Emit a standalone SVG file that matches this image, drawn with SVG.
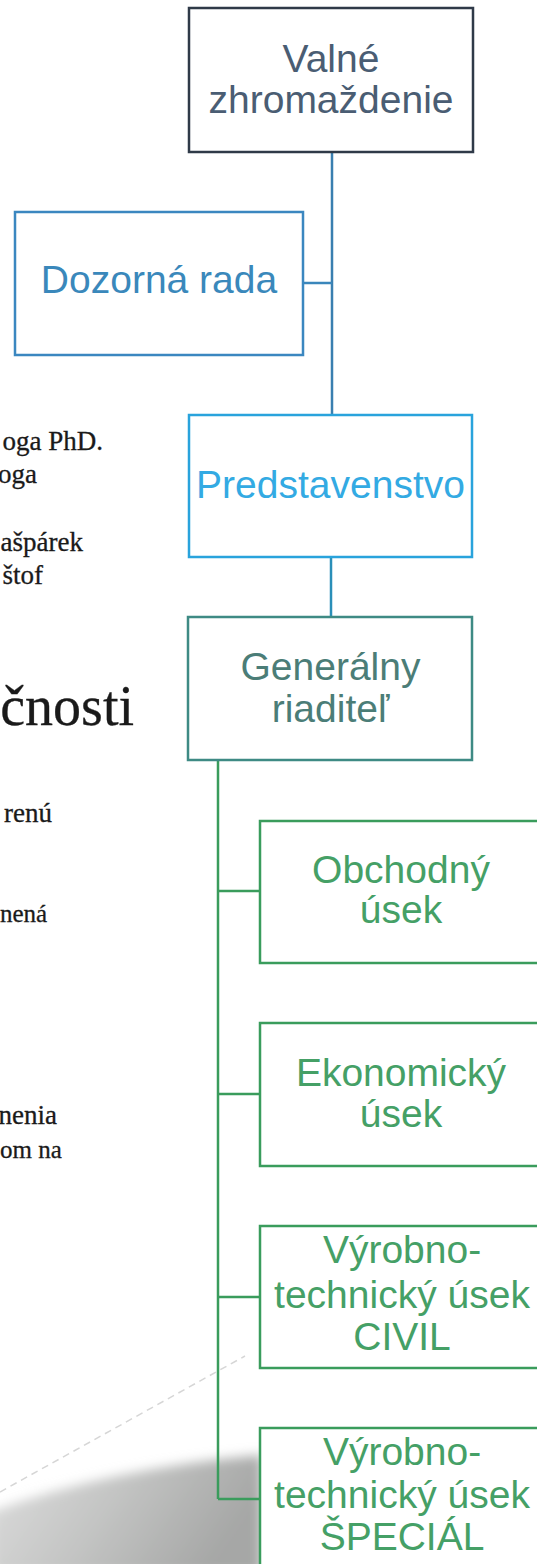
<svg xmlns="http://www.w3.org/2000/svg" width="537" height="1564" viewBox="0 0 537 1564">
  <defs>
    <linearGradient id="swoosh" x1="0" y1="0" x2="1" y2="0.3">
      <stop offset="0" stop-color="#dedede"/>
      <stop offset="0.5" stop-color="#c4c5c4"/>
      <stop offset="1" stop-color="#a6a7a6"/>
    </linearGradient>
    <filter id="soft" x="-10%" y="-30%" width="120%" height="160%">
      <feGaussianBlur stdDeviation="6"/>
    </filter>
    <style>
      .page { font-family: "Liberation Serif", "Times New Roman", serif; fill: #1a1a1a; stroke: #1a1a1a; stroke-width: 0.3; }
      .lbl { font-family: "Liberation Sans", Arial, sans-serif; font-size: 39px; text-anchor: middle; }
      .box { fill: #ffffff; stroke-width: 2.5; }
      .conn { fill: none; stroke-width: 2.5; }
      .g-box { stroke: #3a9c5c; }
      .g-txt { fill: #45a066; }
    </style>
  </defs>

  <rect x="0" y="0" width="537" height="1564" fill="#ffffff"/>

  <!-- background swoosh -->
  <g id="background">
    <path d="M-10,1512 Q110,1468 262,1455 L262,1574 L-10,1574 Z" fill="url(#swoosh)" filter="url(#soft)"/>
    <path d="M0,1492 L245,1356" stroke="#d6d6d6" stroke-width="1.5" stroke-dasharray="7 5" fill="none"/>
  </g>

  <!-- page text fragments -->
  <g id="page-text" class="page" text-anchor="end">
    <text x="103" y="450" font-size="27">oga PhD.</text>
    <text x="37" y="483" font-size="27">oga</text>
    <text x="83" y="551" font-size="27">ašpárek</text>
    <text x="43" y="584" font-size="27">štof</text>
    <text x="134" y="725" font-size="56">čnosti</text>
    <text x="52" y="822" font-size="27">renú</text>
    <text x="0" y="922" font-size="25" text-anchor="start">nená</text>
    <text x="57" y="1124" font-size="27">nenia</text>
    <text x="0" y="1158" font-size="25" text-anchor="start">om na</text>
  </g>

  <!-- connectors -->
  <g id="connectors" class="conn">
    <path d="M332,152 V415" stroke="#3a7fb0"/>
    <path d="M303,283 H332" stroke="#3a86bb"/>
    <path d="M331,557 V617" stroke="#2a8fb8"/>
    <path d="M218,760 V1499" stroke="#3a9c5c"/>
    <path d="M218,891 H260 M218,1094 H260 M218,1297 H260 M218,1499 H260" stroke="#3a9c5c"/>
  </g>

  <g id="valne-zhromazdenie">
    <rect class="box" x="189" y="8" width="284" height="144" stroke="#2f3a48" stroke-width="3"/>
    <text class="lbl" fill="#4a5d73"><tspan x="331" y="72">Valné</tspan><tspan x="331" y="113">zhromaždenie</tspan></text>
  </g>

  <g id="dozorna-rada">
    <rect class="box" x="15" y="212" width="288" height="143" stroke="#3b87c0"/>
    <text class="lbl" fill="#3a88bb" x="159" y="293">Dozorná rada</text>
  </g>

  <g id="predstavenstvo">
    <rect class="box" x="189" y="415" width="283" height="142" stroke="#29a3dc"/>
    <text class="lbl" fill="#33aae3" x="330.5" y="498">Predstavenstvo</text>
  </g>

  <g id="generalny-riaditel">
    <rect class="box" x="188" y="617" width="284" height="143" stroke="#3e8a84"/>
    <text class="lbl" fill="#4b7d77"><tspan x="330.5" y="680">Generálny</tspan><tspan x="330.5" y="722">riaditeľ</tspan></text>
  </g>

  <g id="obchodny-usek">
    <rect class="box g-box" x="260" y="821" width="284" height="142"/>
    <text class="lbl g-txt"><tspan x="401" y="883">Obchodný</tspan><tspan x="401" y="923">úsek</tspan></text>
  </g>

  <g id="ekonomicky-usek">
    <rect class="box g-box" x="260" y="1023" width="284" height="143"/>
    <text class="lbl g-txt"><tspan x="401" y="1086">Ekonomický</tspan><tspan x="401" y="1127">úsek</tspan></text>
  </g>

  <g id="vyrobno-technicky-civil">
    <rect class="box g-box" x="260" y="1226" width="284" height="142"/>
    <text class="lbl g-txt"><tspan x="402" y="1263">Výrobno-</tspan><tspan x="402" y="1308">technický úsek</tspan><tspan x="402" y="1350">CIVIL</tspan></text>
  </g>

  <g id="vyrobno-technicky-special">
    <rect class="box g-box" x="260" y="1428" width="284" height="144"/>
    <text class="lbl g-txt"><tspan x="402" y="1465">Výrobno-</tspan><tspan x="402" y="1508">technický úsek</tspan><tspan x="402" y="1550">ŠPECIÁL</tspan></text>
  </g>
</svg>
